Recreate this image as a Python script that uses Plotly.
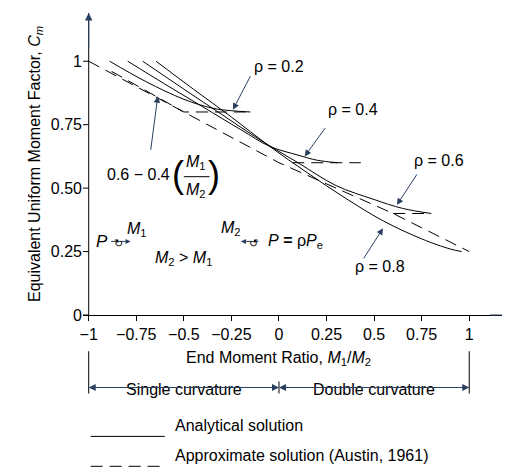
import plotly.graph_objects as go

# analytical curves
rho = ["0.2", "0.4", "0.6", "0.8"]
x_r02 = [-0.89, -0.7, -0.5, -0.35, -0.25, -0.15]
y_r02 = [1.0, 0.92, 0.85, 0.815, 0.805, 0.8]
x_r04 = [-0.795, -0.6, -0.4, -0.2, -0.05, 0.1, 0.2, 0.31]
y_r04 = [1.0, 0.91, 0.82, 0.73, 0.665, 0.63, 0.61, 0.6]
x_r06 = [-0.716, -0.5, -0.3, -0.1, 0.1, 0.3, 0.5, 0.65, 0.8]
y_r06 = [1.0, 0.89, 0.79, 0.69, 0.6, 0.51, 0.455, 0.42, 0.4]
x_r08 = [-0.646, -0.45, -0.25, -0.05, 0.15, 0.35, 0.55, 0.75, 0.9, 0.96]
y_r08 = [1.0, 0.89, 0.78, 0.665, 0.56, 0.46, 0.37, 0.3, 0.26, 0.25]

# Austin approximation (dashed)
x_aus = [-1, 0, 0.6, 1]
y_aus = [1.0, 0.6, 0.4, 0.25]
x_aus2 = [-0.88, -0.5, -0.15]
y_aus2 = [0.96, 0.8, 0.8]
x_aus3 = [0.07, 0.43]
y_aus3 = [0.6, 0.6]
x_aus4 = [0.6, 0.8]
y_aus4 = [0.4, 0.4]

xticks = [-1, -0.75, -0.5, -0.25, 0, 0.25, 0.5, 0.75, 1]
xticklabels = ["\u22121", "\u22120.75", "\u22120.5", "\u22120.25", "0", "0.25", "0.5", "0.75", "1"]
yticks = [0, 0.25, 0.5, 0.75, 1]
yticklabels = ["0", "0.25", "0.50", "0.75", "1"]

FONT = "Liberation Sans, Arial, sans-serif"
FS = 16
line = dict(color="black", width=1)
dash = dict(color="black", width=1, dash="12px,7px")

fig = go.Figure()
for xs, ys in [(x_r02, y_r02), (x_r04, y_r04), (x_r06, y_r06), (x_r08, y_r08)]:
    fig.add_trace(go.Scatter(x=xs, y=ys, mode="lines", line=dict(line, shape="spline"), showlegend=False))
for xs, ys in [(x_aus, y_aus), (x_aus2, y_aus2), (x_aus3, y_aus3), (x_aus4, y_aus4)]:
    fig.add_trace(go.Scatter(x=xs, y=ys, mode="lines", line=dash, showlegend=False))

ann = []
def arrow(x, y, ax, ay, text="", size=1.3):
    ann.append(dict(x=x, y=y, ax=ax, ay=ay, xref="x", yref="y", axref="x", ayref="y",
                    text=text, showarrow=True, arrowhead=2, arrowsize=size, arrowwidth=1))

def label(x, y, text, size=FS, **kw):
    ann.append(dict(x=x, y=y, xref="x", yref="y", text=text, showarrow=False,
                    font=dict(size=size, family=FONT, color="black"), **kw))

# rho labels
arrow(-0.242, 0.809, -0.146, 0.947)
label(0.0, 0.98, "\u03c1 = " + rho[0])
arrow(0.135, 0.625, 0.249, 0.743)
label(0.39, 0.81, "\u03c1 = " + rho[1])
arrow(0.62, 0.434, 0.73, 0.56)
label(0.84, 0.61, "\u03c1 = " + rho[2])
arrow(0.547, 0.342, 0.44, 0.217)
label(0.53, 0.19, "\u03c1 = " + rho[3])

# formula
arrow(-0.637, 0.862, -0.675, 0.645)
label(-0.74, 0.553, "0.6 \u2212 0.4")
label(-0.53, 0.553, "(", size=36)
label(-0.34, 0.553, ")", size=36)
label(-0.435, 0.6, "<i>M</i><sub>1</sub>")
label(-0.435, 0.49, "<i>M</i><sub>2</sub>")

# beam sketch
label(-0.93, 0.29, "<i>P</i>", size=17)
arrow(-0.78, 0.29, -0.89, 0.29, size=1)
arrow(-0.2, 0.29, -0.1, 0.29, size=1)
label(-0.845, 0.285, "\u21bb", size=11)
label(-0.135, 0.285, "\u21ba", size=11)
label(-0.745, 0.335, "<i>M</i><sub>1</sub>")
label(-0.25, 0.34, "<i>M</i><sub>2</sub>")
label(-0.5, 0.224, "<i>M</i><sub>2</sub> > <i>M</i><sub>1</sub>")
label(-0.07, 0.29, "<i>P</i> <b>=</b> \u03c1<i>P</i><sub>e</sub>", xanchor="left")

# axis arrows
ann.append(dict(x=1.23, y=0, ax=1.1, ay=0, xref="x", yref="y", axref="x", ayref="y",
                text="", showarrow=True, arrowhead=2, arrowsize=1.5, arrowwidth=1))
ann.append(dict(x=-1.0, y=1.19, ax=-1.0, ay=1.05, xref="x", yref="y", axref="x", ayref="y",
                text="", showarrow=True, arrowhead=2, arrowsize=1.5, arrowwidth=1))

def below(x, y, text, **kw):
    ann.append(dict(x=x, y=y, xref="x", yref="paper", text=text, showarrow=False,
                    font=dict(size=FS, family=FONT, color="black"), **kw))

below(0, -0.183, "End Moment Ratio, <i>M</i><sub>1</sub>/<i>M</i><sub>2</sub>")
below(-0.5, -0.28, "Single curvature")
below(0.5, -0.28, "Double curvature")
below(-0.558, -0.402, "Analytical solution", xanchor="left")
below(-0.558, -0.501, "Approximate solution (Austin, 1961)", xanchor="left")

# curvature double arrows
for a, b in [(-1, 0), (0, 1)]:
    m = (a + b) / 2
    for end in (a, b):
        ann.append(dict(x=end, y=-0.24, xref="x", yref="paper", ax=m, ay=0, axref="x", ayref="pixel",
                        text="", showarrow=True, arrowhead=2, arrowsize=1.4, arrowwidth=1))

shapes = []
for xv in [-1, 0, 1]:
    y0 = -0.22 if xv == 0 else -0.12
    shapes.append(dict(type="line", xref="x", yref="paper", x0=xv, x1=xv, y0=y0, y1=-0.26, line=line))
shapes.append(dict(type="line", xref="x", yref="paper", x0=-0.99, x1=-0.6, y0=-0.402, y1=-0.402, line=line))
shapes.append(dict(type="line", xref="x", yref="paper", x0=-0.99, x1=-0.6, y0=-0.501, y1=-0.501, line=dash))
shapes.append(dict(type="line", xref="x", yref="y", x0=-0.5, x1=-0.365, y0=0.545, y1=0.545, line=line))

fig.update_layout(
    width=510, height=470, margin=dict(l=75, r=5, t=5, b=163),
    plot_bgcolor="white", paper_bgcolor="white",
    font=dict(family=FONT, size=FS, color="black"),
    annotations=ann, shapes=shapes,
    xaxis=dict(range=[-1.03, 1.23], tickvals=xticks, ticktext=xticklabels, showgrid=False,
               zeroline=False, showline=True, linecolor="black", ticks="outside", ticklen=5,
               tickcolor="black", anchor="y", automargin=False, tickfont=dict(size=FS)),
    yaxis=dict(range=[0, 1.19], tickvals=yticks, ticktext=yticklabels, showgrid=False,
               zeroline=False, showline=False, ticks="", automargin=False, tickfont=dict(size=FS),
               title=dict(text="Equivalent Uniform Moment Factor, <i>C<sub>m</sub></i>",
                          standoff=6, font=dict(size=FS))),
)
# vertical axis line at x=-1 with ticks
fig.add_shape(type="line", xref="x", yref="y", x0=-1, x1=-1, y0=0, y1=1.19, line=line)
for yv in yticks:
    fig.add_shape(type="line", xref="x", yref="y", x0=-1.03, x1=-1, y0=yv, y1=yv, line=line)

fig.write_html("out.html")
